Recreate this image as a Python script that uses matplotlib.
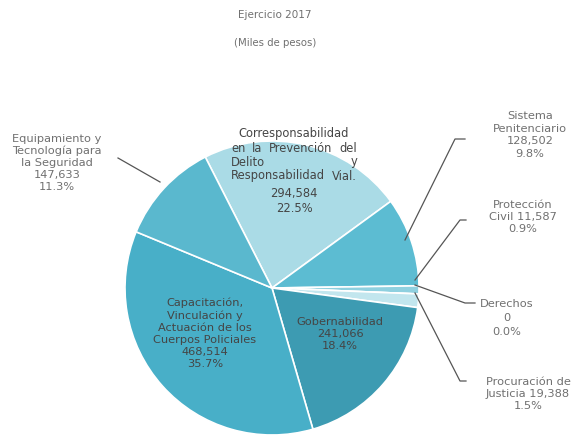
import matplotlib.pyplot as plt

# data (miles de pesos), clockwise from the top slice
categories = ["Corresponsabilidad en la Prevención del Delito y Responsabilidad Vial.",
              "Sistema Penitenciario", "Protección Civil", "Derechos",
              "Procuración de Justicia", "Gobernabilidad",
              "Capacitación, Vinculación y Actuación de los Cuerpos Policiales",
              "Equipamiento y Tecnología para la Seguridad"]
values = [294584, 128502, 11587, 0, 19388, 241066, 468514, 147633]
colors = ["#aadbe6", "#5cbcd2", "#8fd0df", "#aadbe6", "#c2e6ee", "#3d9bb2", "#48afc8", "#5ab8ce"]

total = sum(values)
pct = [v / total * 100 for v in values]
num = [f"{v:,}" for v in values]

W, H = 575, 437
fig = plt.figure(figsize=(5.75, 4.37), dpi=100)
ax = fig.add_axes([0, 0, 1, 1])


def Y(y):
    # pixel row from top -> data y
    return H - y


ax.pie(values, colors=colors, startangle=117, counterclock=False,
       center=(272, Y(288)), radius=147,
       wedgeprops=dict(edgecolor="white", linewidth=1.2))
ax.set_xlim(0, W)
ax.set_ylim(0, H)
ax.set_aspect("equal")
ax.axis("off")

grey = "#707070"
dark = "#454545"
fs = 8.2
font = "DejaVu Sans"

ax.text(275, Y(15), "Ejercicio 2017", ha="center", va="center", fontsize=7.5, color=grey, family=font)
ax.text(275, Y(43), "(Miles de pesos)", ha="center", va="center", fontsize=7.3, color=grey, family=font)

# outside labels
ax.text(57, Y(163), f"Equipamiento y\nTecnología para\nla Seguridad\n{num[7]}\n{pct[7]:.1f}%",
        ha="center", va="center", fontsize=fs, color=grey, family=font, linespacing=1.25)
ax.text(530, Y(135), f"Sistema\nPenitenciario\n{num[1]}\n{pct[1]:.1f}%",
        ha="center", va="center", fontsize=fs, color=grey, family=font, linespacing=1.3)
ax.text(523, Y(217), f"Protección\nCivil {num[2]}\n{pct[2]:.1f}%",
        ha="center", va="center", fontsize=fs, color=grey, family=font, linespacing=1.3)
ax.text(507, Y(318), f"Derechos\n{num[3]}\n{pct[3]:.1f}%",
        ha="center", va="center", fontsize=fs, color=grey, family=font, linespacing=1.5)
ax.text(528, Y(394), f"Procuración de\nJusticia {num[4]}\n{pct[4]:.1f}%",
        ha="center", va="center", fontsize=fs, color=grey, family=font, linespacing=1.3)

# leader lines (pixel coords from top)
leaders = [
    [(160, 182), (118, 158)],
    [(405, 240), (455, 139), (465, 139)],
    [(415, 280), (460, 220), (466, 220)],
    [(415, 285), (465, 303), (475, 303)],
    [(415, 293), (460, 381), (466, 381)],
]
for pts in leaders:
    ax.plot([p[0] for p in pts], [Y(p[1]) for p in pts], color="#555555", lw=0.9)

# justified block inside the top slice
x0, x1 = 231, 357
fs_in = 8.3
renderer = fig.canvas.get_renderer()


def justify(words, y):
    items = [ax.text(0, Y(y), w, ha="left", va="center", fontsize=fs_in, color=dark, family=font)
             for w in words]
    widths = [t.get_window_extent(renderer).width for t in items]
    gap = (x1 - x0 - sum(widths)) / max(len(words) - 1, 1)
    x = x0
    for t, w in zip(items, widths):
        t.set_x(x)
        x += w + gap


ax.text((x0 + x1) / 2, Y(133), "Corresponsabilidad", ha="center", va="center", fontsize=fs_in, color=dark, family=font)
justify(["en", "la", "Prevención", "del"], 148)
justify(["Delito", "y"], 162)
justify(["Responsabilidad", "Vial."], 176)
ax.text((x0 + x1) / 2, Y(201), f"{num[0]}\n{pct[0]:.1f}%", ha="center", va="center",
        fontsize=fs_in, color=dark, family=font, linespacing=1.25)

ax.text(205, Y(333), f"Capacitación,\nVinculación y\nActuación de los\nCuerpos Policiales\n{num[6]}\n{pct[6]:.1f}%",
        ha="center", va="center", fontsize=fs, color=dark, family=font, linespacing=1.25)
ax.text(340, Y(334), f"Gobernabilidad\n{num[5]}\n{pct[5]:.1f}%",
        ha="center", va="center", fontsize=fs, color=dark, family=font, linespacing=1.25)

fig.savefig("out.png", dpi=100)
